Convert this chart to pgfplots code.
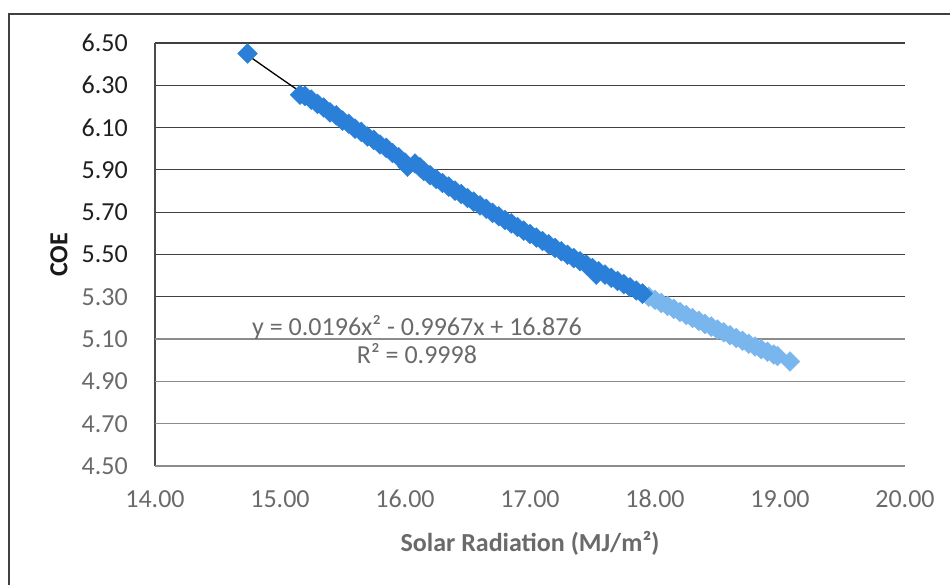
\documentclass[border=0pt]{standalone}
\usepackage{fontspec}
\setmainfont{Carlito}
\usepackage{pgfplots}
\pgfplotsset{compat=1.18}
\definecolor{darkblue}{HTML}{2A80D8}
\definecolor{lightblue}{HTML}{7AB6EE}
\definecolor{txtgray}{HTML}{6A6A6A}
\newcommand\tickfont{\fontsize{26}{28}\selectfont}
\begin{document}
\begin{tikzpicture}[x=1pt,y=1pt]
\useasboundingbox (0,0) rectangle (950,585);
\draw[line width=1.2pt, color=black!75] (9,0) -- (9,571) -- (950,571);
\begin{axis}[at={(155pt,119pt)}, anchor=south west, scale only axis,
  width=750pt, height=423pt,
  xmin=14, xmax=20, ymin=4.5, ymax=6.5,
  axis x line*=bottom, axis y line*=left,
  axis line style={-, line width=1.2pt, draw=black!70},
  major tick length=0pt,
  xtick={14,15,16,17,18,19,20},
  xticklabels={14.00,15.00,16.00,17.00,18.00,19.00,20.00},
  ytick={5.3,5.5,5.7,5.9,6.1,6.3,6.5},
  yticklabels={\textcolor{txtgray}{5.30},5.50,5.70,5.90,6.10,6.30,6.50},
  extra y ticks={4.5,4.7,4.9,5.1},
  extra y tick labels={4.50,4.70,4.90,5.10},
  extra y tick style={grid style={line width=1.2pt, draw=black!45}, yticklabel style={text=txtgray}},
  ymajorgrids, grid style={line width=1.2pt, draw=black!75},
  yticklabel style={font=\tickfont, anchor=east, inner sep=0pt, xshift=-27pt, text=black!88},
  xticklabel style={font=\tickfont, anchor=north, inner sep=0pt, yshift=-24pt, text=txtgray},
  clip=false]
\addplot[only marks, mark=square*, mark size=7pt, mark options={rotate=45, draw=lightblue, fill=lightblue}] table {
x y
17.90 5.315
17.95 5.300
18.00 5.286
18.05 5.271
18.10 5.257
18.15 5.243
18.20 5.228
18.25 5.214
18.30 5.200
18.35 5.186
18.40 5.172
18.45 5.159
18.50 5.145
18.55 5.132
18.60 5.118
18.65 5.105
18.70 5.092
18.75 5.078
18.80 5.065
18.85 5.052
18.90 5.040
18.95 5.027
18.98 5.020
19.08 4.994
};
\addplot[only marks, mark=square*, mark size=7pt, mark options={rotate=45, draw=darkblue, fill=darkblue}] table {
x y
14.74 6.450
15.16 6.255
15.20 6.250
15.25 6.232
15.30 6.212
15.35 6.195
15.40 6.172
15.45 6.158
15.50 6.133
15.55 6.118
15.60 6.095
15.65 6.080
15.70 6.058
15.75 6.042
15.80 6.020
15.85 6.004
15.90 5.980
15.95 5.960
16.00 5.935
16.02 5.915
16.08 5.930
16.12 5.912
16.15 5.895
16.20 5.875
16.25 5.857
16.30 5.838
16.35 5.821
16.40 5.802
16.45 5.786
16.50 5.767
16.55 5.750
16.60 5.732
16.65 5.716
16.70 5.697
16.75 5.681
16.80 5.663
16.85 5.647
16.90 5.630
16.95 5.613
17.00 5.597
17.05 5.580
17.10 5.564
17.15 5.548
17.20 5.531
17.25 5.515
17.30 5.499
17.35 5.483
17.40 5.468
17.45 5.452
17.50 5.436
17.53 5.405
17.55 5.421
17.60 5.405
17.65 5.390
17.70 5.375
17.75 5.360
17.80 5.345
17.85 5.330
17.90 5.315
};
\addplot[smooth, no marks, line width=1.3pt, black!50] coordinates {
(17.9,5.3151) (18.25,5.2142) (18.5,5.1451) (18.75,5.0785) (19.08,4.9943)};
\addplot[smooth, no marks, line width=1.3pt, black] coordinates {
(14.74,6.443) (15.0,6.3355) (15.25,6.2345) (15.5,6.136) (15.75,6.040) (16.0,5.946)
(16.25,5.8552) (16.5,5.7665) (16.75,5.6803) (17.0,5.5965) (17.25,5.5151) (17.5,5.4362) (17.9,5.3151)};
\end{axis}
\node[align=center, text=txtgray, font=\tickfont] at (417,245) {y = 0.0196x² - 0.9967x + 16.876\\R² = 0.9998};
\node[rotate=90, font=\bfseries\tickfont, text=black!90] at (59,330) {COE};
\node[font=\bfseries\tickfont, text=txtgray] at (530,42) {Solar Radiation (MJ/m²)};
\end{tikzpicture}
\end{document}
